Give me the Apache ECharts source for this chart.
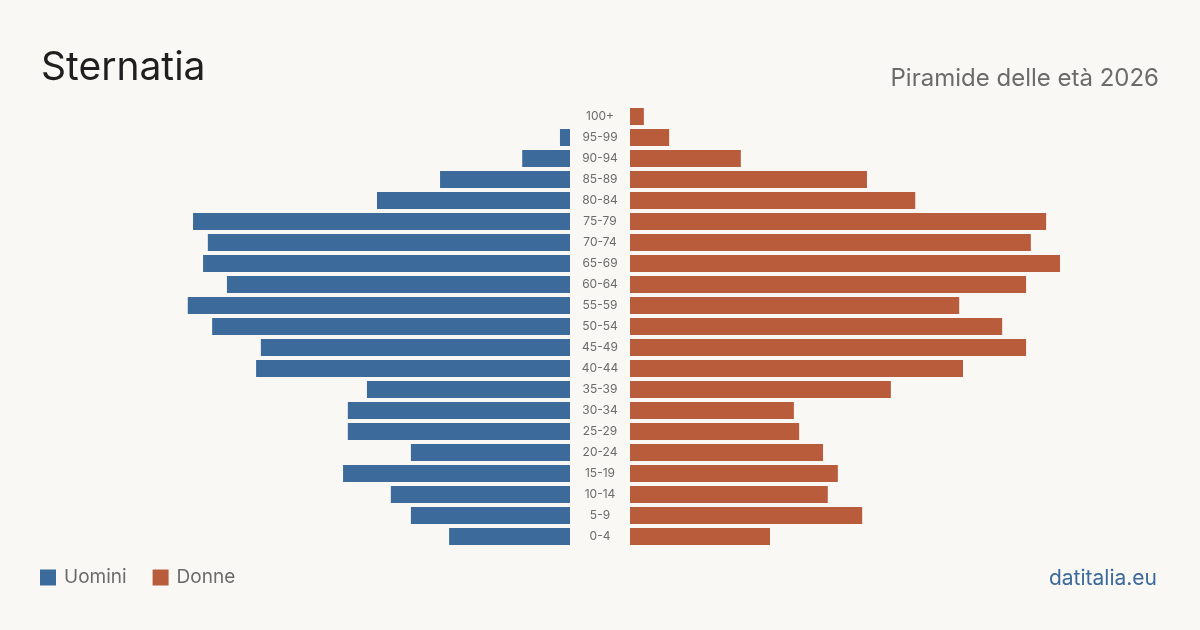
<!DOCTYPE html>
<html>
<head>
<meta charset="utf-8">
<script src="https://cdn.jsdelivr.net/npm/echarts@6/dist/echarts.min.js"></script>
<style>
  html, body { margin: 0; padding: 0; background: #f9f8f4; }
  #chart { width: 1200px; height: 630px; }
</style>
</head>
<body>
<div id="chart"></div>
<script>
// fasce d'età, dal basso verso l'alto
const ages = ["0-4", "5-9", "10-14", "15-19", "20-24", "25-29", "30-34", "35-39", "40-44", "45-49",
  "50-54", "55-59", "60-64", "65-69", "70-74", "75-79", "80-84", "85-89", "90-94", "95-99", "100+"];
const men = [25.3, 33.3, 37.5, 47.5, 33.3, 46.5, 46.5, 42.5, 65.7, 64.7,
  74.9, 80.0, 71.8, 76.8, 75.8, 78.9, 40.4, 27.2, 10.0, 2.1, 0];
const women = [29.3, 48.6, 41.4, 43.5, 40.4, 35.4, 34.3, 54.6, 69.7, 82.9,
  77.9, 68.9, 82.9, 90.0, 83.9, 87.1, 59.7, 49.6, 23.2, 8.2, 2.9];
const axisMax = 90;

const font = "Inter, 'Noto Sans', sans-serif";
const blue = "#3b6a9b";
const orange = "#b95c3c";

let myChart = echarts.init(document.getElementById("chart"));
const options = {
  backgroundColor: "#f9f8f4",
  animation: false,
  title: [
    {
      text: "Sternatia",
      left: 36,
      top: 44,
      textStyle: { fontFamily: font, fontSize: 39, fontWeight: "normal", color: "#1f1f1f" },
    },
    {
      text: "Piramide delle età 2026",
      right: 36,
      top: 62,
      textStyle: { fontFamily: font, fontSize: 24, fontWeight: "normal", color: "#6b6b6b" },
    },
    {
      text: "datitalia.eu",
      right: 38,
      top: 563,
      textStyle: { fontFamily: font, fontSize: 21, fontWeight: "normal", color: "#3b6a9b" },
    },
  ],
  legend: {
    left: 40,
    top: 568,
    padding: 0,
    itemWidth: 16,
    itemHeight: 16,
    itemGap: 26,
    icon: "rect",
    textStyle: { fontFamily: font, fontSize: 19, color: "#6b6b6b", padding: [0, 0, 0, 3] },
    data: ["Uomini", "Donne"],
  },
  grid: [
    { left: 140, right: 630, top: 106, height: 441 },
    { left: 630, right: 140, top: 106, height: 441 },
  ],
  xAxis: [
    { gridIndex: 0, type: "value", min: 0, max: axisMax, inverse: true, show: false },
    { gridIndex: 1, type: "value", min: 0, max: axisMax, show: false },
  ],
  yAxis: [
    {
      gridIndex: 0, type: "category", data: ages, position: "right",
      axisLine: { show: false }, axisTick: { show: false }, axisLabel: { show: false },
    },
    {
      gridIndex: 1, type: "category", data: ages, position: "left",
      axisLine: { show: false }, axisTick: { show: false },
      axisLabel: {
        margin: 30, align: "center", padding: [2, 0, 0, 0],
        fontFamily: font, fontSize: 12, color: "#6b6b6b",
      },
    },
  ],
  series: [
    {
      name: "Uomini", type: "bar", xAxisIndex: 0, yAxisIndex: 0,
      data: men, barWidth: 17, itemStyle: { color: blue },
    },
    {
      name: "Donne", type: "bar", xAxisIndex: 1, yAxisIndex: 1,
      data: women, barWidth: 17, itemStyle: { color: orange },
    },
  ],
};
myChart.setOption(options);
</script>
</body>
</html>
